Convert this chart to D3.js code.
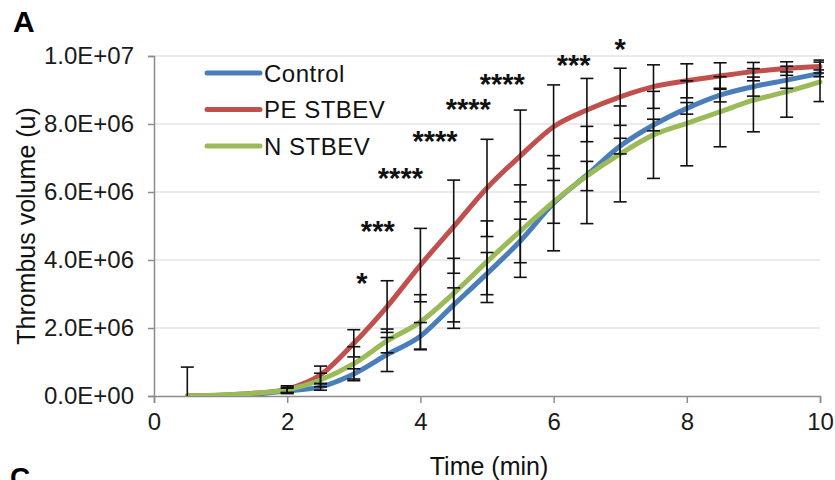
<!DOCTYPE html>
<html>
<head>
<meta charset="utf-8">
<script src="https://cdn.jsdelivr.net/npm/d3@7"></script>
<style>
  body { margin: 0; background: #fff; }
  svg { font-family: "Liberation Sans", Arial, sans-serif; }
</style>
</head>
<body>
<script>
// time points (min)
var times = [0.5, 1, 1.5, 2, 2.5, 3, 3.5, 4, 4.5, 5, 5.5, 6, 6.5, 7, 7.5, 8, 8.5, 9, 9.5, 10];

// thrombus volume, x1e6
var control = [0, 0.01, 0.05, 0.15, 0.27, 0.65, 1.22, 1.76, 2.68, 3.6, 4.56, 5.67, 6.5, 7.35, 7.97, 8.46, 8.85, 9.1, 9.29, 9.49];
var peStbev = [0, 0.02, 0.08, 0.2, 0.62, 1.55, 2.63, 3.85, 4.98, 6.12, 7.06, 7.92, 8.41, 8.8, 9.1, 9.27, 9.41, 9.54, 9.63, 9.69];
var nStbev  = [0, 0.03, 0.08, 0.18, 0.47, 0.95, 1.62, 2.18, 3.02, 3.95, 4.85, 5.71, 6.47, 7.12, 7.68, 8.02, 8.36, 8.7, 8.95, 9.24];

// standard deviations, x1e6
var controlSd = [0.85, 0, 0, 0.08, 0.1, 0.15, 0.5, 0.4, 0.5, 0.62, 0.64, 1.4, 1.43, 0.23, 0.17, 0.17, 0.2, 0.28, 0.24, 0.1];
var peSd      = [0, 0, 0, 0.1, 0.26, 0.4, 0.76, 1.08, 1.37, 1.43, 1.35, 1.23, 0.93, 0.84, 0.64, 0.5, 0.39, 0.27, 0.2, 0.19];
var nSd       = [0, 0, 0, 0.08, 0.2, 0.5, 0.35, 0.8, 1.03, 1.2, 1.36, 0.63, 0.43, 1.41, 1.28, 1.25, 1.03, 0.93, 0.75, 0.58];

var seriesNames = ["Control", "PE STBEV", "N STBEV"];
var seriesColors = ["#4a7ebb", "#c0504d", "#9bbb59"];

// significance marks: label, time, value (x1e6)
var starLabels = ["*", "***", "****", "****", "****", "****", "***", "*"];
var starTimes  = [3.12, 3.36, 3.7, 4.22, 4.72, 5.23, 6.3, 7.0];
var starValues = [3.4, 4.95, 6.5, 7.6, 8.52, 9.27, 9.82, 10.28];

var xTicks = [0, 2, 4, 6, 8, 10];
var yTicks = [0, 2e6, 4e6, 6e6, 8e6, 1e7];

var margin = {top: 56, right: 15, bottom: 84, left: 154},
    width = 835 - margin.left - margin.right,
    height = 480 - margin.top - margin.bottom;

var svg = d3.select("body").append("svg")
    .attr("width", 835)
    .attr("height", 480);

var g = svg.append("g")
    .attr("transform", "translate(" + margin.left + "," + margin.top + ")");

var x = d3.scaleLinear().domain([0, 10]).range([0, width]);
var y = d3.scaleLinear().domain([0, 1e7]).range([height, 0]);

function sci(v) {
  if (v === 0) return "0.0E+00";
  var e = Math.floor(Math.log10(v));
  var m = v / Math.pow(10, e);
  return m.toFixed(1) + "E+" + (e < 10 ? "0" + e : e);
}

// gridlines
g.append("g")
  .selectAll("line")
  .data(yTicks.filter(function(d) { return d > 0; }))
  .enter().append("line")
    .attr("x1", 0).attr("x2", width)
    .attr("y1", function(d) { return y(d); })
    .attr("y2", function(d) { return y(d); })
    .style("stroke", "#e4e4e4")
    .style("stroke-width", "1.3px");

// axes
var yAxis = g.append("g")
    .call(d3.axisLeft(y).tickValues(yTicks).tickFormat(sci).tickSize(6).tickPadding(14));
var xAxis = g.append("g")
    .attr("transform", "translate(0," + height + ")")
    .call(d3.axisBottom(x).tickValues(xTicks).tickFormat(d3.format("d")).tickSize(7).tickPadding(10));

[xAxis, yAxis].forEach(function(a) {
  a.select(".domain").style("stroke", "#8c8c8c").style("stroke-width", "1.5px");
  a.selectAll(".tick line").style("stroke", "#8c8c8c").style("stroke-width", "1.5px");
  a.selectAll(".tick text").style("font-size", "24px").style("fill", "#1a1a1a")
    .style("font-family", "'Liberation Sans', Arial, sans-serif");
});

// clip to plot area
svg.append("clipPath").attr("id", "plotclip")
  .append("rect").attr("x", 0).attr("y", -4).attr("width", width + 4).attr("height", height + 4);

var allValues = [control, peStbev, nStbev];
var allSd = [controlSd, peSd, nSd];

var line = d3.line()
    .x(function(d) { return x(d.t); })
    .y(function(d) { return y(d.v * 1e6); })
    .curve(d3.curveCatmullRom.alpha(0));

var plot = g.append("g").attr("clip-path", "url(#plotclip)");

allValues.forEach(function(vals, i) {
  var data = times.map(function(t, k) { return {t: t, v: vals[k]}; });
  plot.append("path")
    .datum(data)
    .attr("d", line)
    .style("fill", "none")
    .style("stroke", seriesColors[i])
    .style("stroke-width", "5px")
    .style("stroke-linecap", "round");
});

// error bars
allValues.forEach(function(vals, i) {
  var bars = times.map(function(t, k) { return {t: t, v: vals[k], sd: allSd[i][k]}; })
    .filter(function(d) { return d.sd > 0; });
  var eb = plot.append("g").selectAll("g").data(bars).enter().append("g");
  eb.append("line")
    .attr("x1", function(d) { return x(d.t); })
    .attr("x2", function(d) { return x(d.t); })
    .attr("y1", function(d) { return y((d.v - d.sd) * 1e6); })
    .attr("y2", function(d) { return y((d.v + d.sd) * 1e6); });
  eb.append("line")
    .attr("x1", function(d) { return x(d.t) - 6.5; })
    .attr("x2", function(d) { return x(d.t) + 6.5; })
    .attr("y1", function(d) { return y((d.v + d.sd) * 1e6); })
    .attr("y2", function(d) { return y((d.v + d.sd) * 1e6); });
  eb.append("line")
    .attr("x1", function(d) { return x(d.t) - 6.5; })
    .attr("x2", function(d) { return x(d.t) + 6.5; })
    .attr("y1", function(d) { return y((d.v - d.sd) * 1e6); })
    .attr("y2", function(d) { return y((d.v - d.sd) * 1e6); });
  eb.selectAll("line").style("stroke", "#111").style("stroke-width", "1.6px");
});

// significance stars
g.append("g").selectAll("text")
  .data(starLabels)
  .enter().append("text")
    .attr("x", function(d, i) { return x(starTimes[i]); })
    .attr("y", function(d, i) { return y(starValues[i] * 1e6) + 13; })
    .attr("text-anchor", "middle")
    .style("font-size", "29px")
    .style("font-weight", "bold")
    .style("fill", "#111")
    .text(function(d) { return d; });

// legend
var legend = svg.append("g").attr("transform", "translate(207,73)");
seriesNames.forEach(function(name, i) {
  var row = legend.append("g").attr("transform", "translate(0," + (i * 36.5) + ")");
  row.append("line")
    .attr("x1", 0).attr("x2", 53)
    .style("stroke", seriesColors[i])
    .style("stroke-width", "5px")
    .style("stroke-linecap", "round");
  row.append("text")
    .attr("x", 57).attr("y", 8.5)
    .style("font-size", "24px")
    .style("letter-spacing", "0.5px")
    .style("fill", "#111")
    .text(name);
});

// axis titles
svg.append("text")
  .attr("x", 489)
  .attr("y", 475)
  .attr("text-anchor", "middle")
  .style("font-size", "25px")
  .style("fill", "#111")
  .text("Time (min)");

svg.append("text")
  .attr("transform", "translate(35," + (margin.top + height / 2) + ") rotate(-90)")
  .attr("text-anchor", "middle")
  .style("font-size", "25px")
  .style("fill", "#111")
  .text("Thrombus volume (u)");

// panel letters
svg.append("text").attr("x", 13).attr("y", 32)
  .style("font-size", "30px").style("font-weight", "bold").text("A");
svg.append("text").attr("x", 10).attr("y", 487)
  .style("font-size", "28px").style("font-weight", "bold").text("C");
</script>
</body>
</html>
